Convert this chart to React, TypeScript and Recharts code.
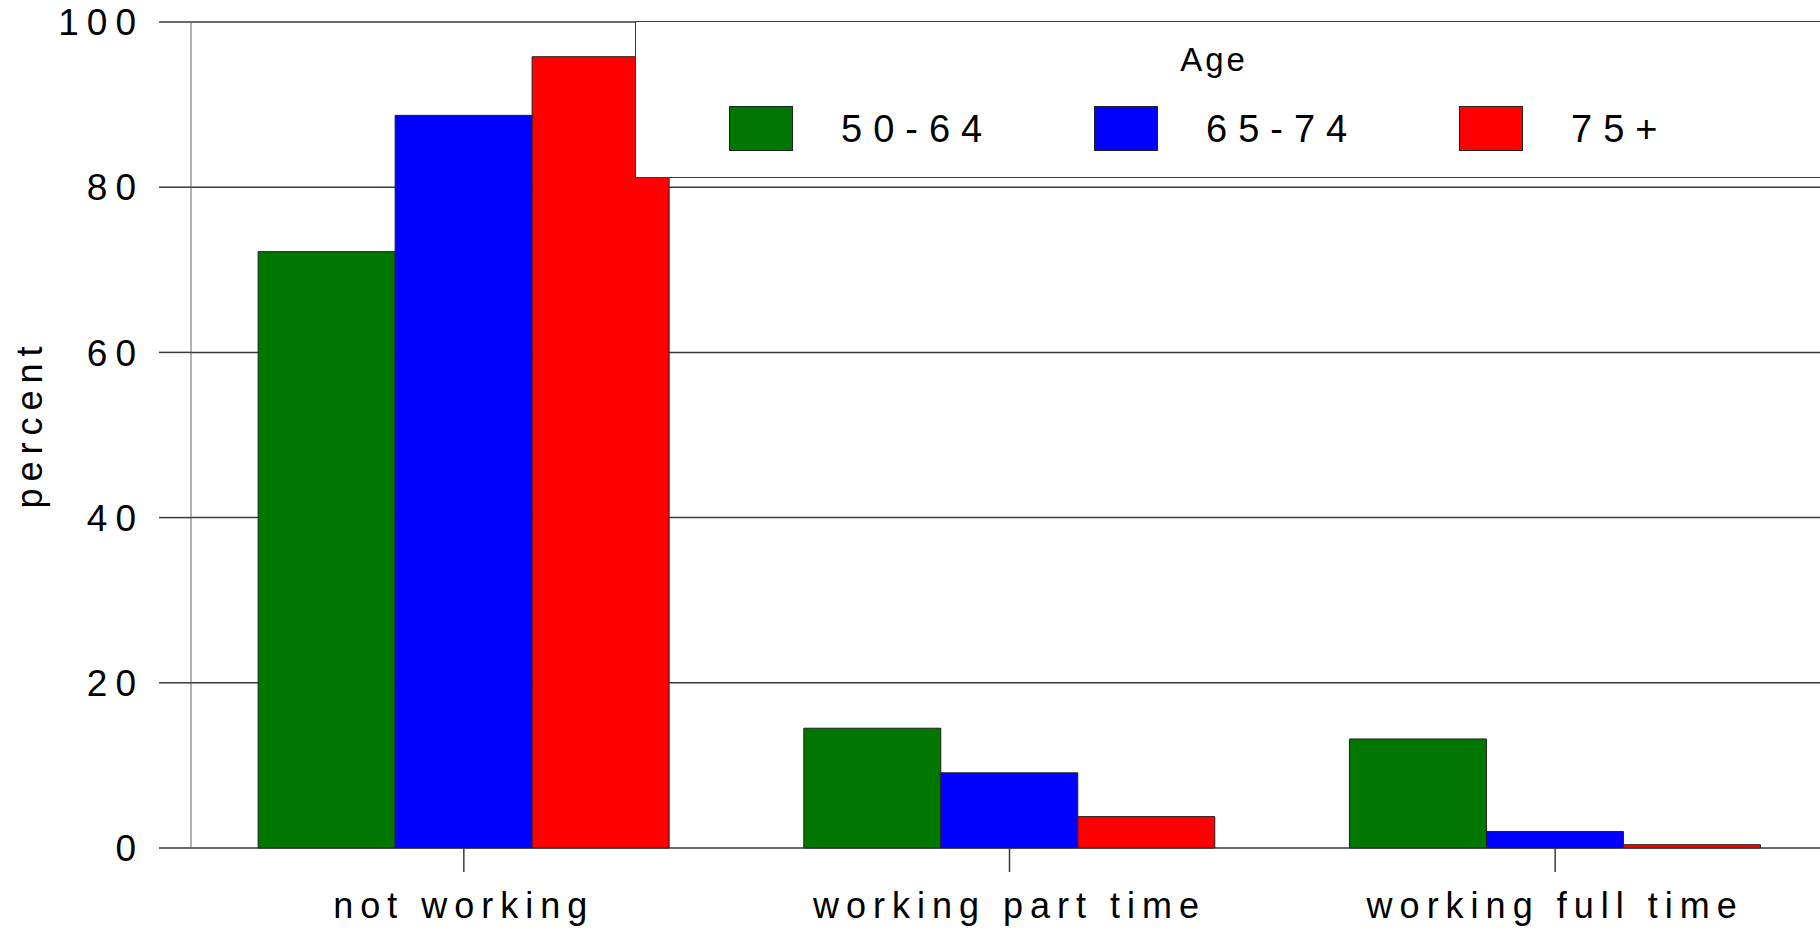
import React from 'react';
import { BarChart, Bar, XAxis, YAxis, CartesianGrid, Legend, Label } from 'recharts';

const categories = ['not working', 'working part time', 'working full time'];
const age5064 = [72.2, 14.5, 13.2];
const age6574 = [88.7, 9.1, 2.0];
const age75plus = [95.8, 3.8, 0.4];
const seriesNames = ['50-64', '65-74', '75+'];
const seriesColors = ['#007700', '#0000ff', '#ff0000'];
const yTicks = [0, 20, 40, 60, 80, 100];

const data = categories.map((category, i) => ({
  category,
  [seriesNames[0]]: age5064[i],
  [seriesNames[1]]: age6574[i],
  [seriesNames[2]]: age75plus[i],
}));

const FONT = '"Liberation Sans", Arial, sans-serif';
const GRID = '#3a3a3a';

function AgeLegend({ payload }: any) {
  return (
    <div
      style={{
        position: 'relative',
        width: '100%',
        height: '100%',
        background: '#fff',
        borderTop: `1.5px solid ${GRID}`,
        borderLeft: `1.5px solid ${GRID}`,
        borderBottom: `1.5px solid ${GRID}`,
        boxSizing: 'border-box',
        fontFamily: FONT,
        color: '#000',
      }}
    >
      <div
        style={{
          position: 'absolute',
          left: 578,
          top: 21,
          transform: 'translateX(-50%)',
          fontSize: 33,
          lineHeight: 1,
          letterSpacing: 3,
        }}
      >
        Age
      </div>
      {(payload || []).map((entry: any, i: number) => (
        <div
          key={entry.value}
          style={{
            position: 'absolute',
            left: 93 + i * 365,
            top: 84,
            display: 'flex',
            alignItems: 'center',
          }}
        >
          <span
            style={{
              display: 'inline-block',
              width: 64,
              height: 45,
              background: entry.color,
              border: '1px solid #222',
              boxSizing: 'border-box',
            }}
          />
          <span style={{ marginLeft: 48, fontSize: 38, lineHeight: 1, letterSpacing: 11 }}>
            {entry.value}
          </span>
        </div>
      ))}
    </div>
  );
}

export default function App() {
  return (
    <div style={{ position: 'absolute', left: 0, top: 0, width: 1820, height: 930, background: '#fff' }}>
      <style>{'body{margin:0;overflow:hidden;}'}</style>
      <BarChart
        width={1820}
        height={930}
        data={data}
        margin={{ top: 22, right: -8, bottom: 0, left: 0 }}
        barCategoryGap="12.3%"
        barGap={0}
      >
        <CartesianGrid vertical={false} stroke={GRID} strokeWidth={1.5} />
        <XAxis
          dataKey="category"
          height={82}
          axisLine={false}
          tickSize={24}
          tickMargin={20}
          tickLine={{ stroke: GRID, strokeWidth: 1.5 }}
          tick={{ fontSize: 36, fill: '#000', fontFamily: FONT, letterSpacing: 7 }}
          interval={0}
        />
        <YAxis
          width={191}
          domain={[0, 100]}
          ticks={yTicks}
          interval={0}
          tickSize={32}
          tickMargin={15}
          axisLine={{ stroke: '#666', strokeWidth: 1 }}
          tickLine={{ stroke: GRID, strokeWidth: 1.5 }}
          tick={{ fontSize: 37, fill: '#000', fontFamily: FONT, letterSpacing: 8 }}
        >
          <Label
            content={() => (
              <text
                x={29}
                y={424}
                transform="rotate(-90 29 424)"
                textAnchor="middle"
                dominantBaseline="central"
                fontSize={36}
                fontFamily={FONT}
                letterSpacing={7}
                fill="#000"
              >
                percent
              </text>
            )}
          />
        </YAxis>
        <Legend
          layout="horizontal"
          verticalAlign="middle"
          align="center"
          content={<AgeLegend />}
          wrapperStyle={{ position: 'absolute', left: 635, top: 21, width: 1185, height: 157 }}
        />
        {seriesNames.map((name, i) => (
          <Bar
            key={name}
            dataKey={name}
            name={name}
            fill={seriesColors[i]}
            stroke="#222"
            strokeWidth={1}
            isAnimationActive={false}
          />
        ))}
      </BarChart>
    </div>
  );
}
